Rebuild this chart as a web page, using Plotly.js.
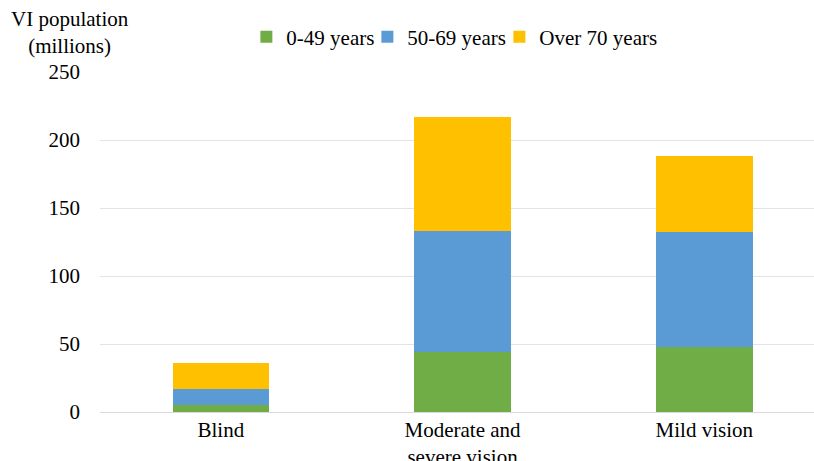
<!DOCTYPE html>
<html>
<head>
<meta charset="utf-8">
<script src="https://cdn.plot.ly/plotly-3.0.1.min.js"></script>
<style>html,body{margin:0;padding:0;background:#fff;}#chart{width:814px;height:461px;}</style>
</head>
<body>
<div id="chart"></div>
<script>
var categories = ["Blind", "Moderate and<br>severe vision", "Mild vision"];
var seriesNames = ["0-49 years", "50-69 years", "Over 70 years"];
var age0to49 = [5.0, 44.1, 47.8];
var age50to69 = [12.2, 89.1, 84.4];
var ageOver70 = [18.9, 83.5, 56.3];
var yTickVals = [0, 50, 100, 150, 200, 250];
var yTitle = "VI population<br>(millions)";

var colors = ["#70AD47", "#5B9BD5", "#FFC000"];
var legendWidths = [76, 87, 0];
var values = [age0to49, age50to69, ageOver70];
var FONT = "Liberation Serif";

var traces = values.map(function (v, i) {
  var t = {
    type: "bar",
    name: seriesNames[i],
    x: categories,
    y: v,
    marker: {color: colors[i], line: {width: 0}},
    hoverinfo: "name+y"
  };
  if (legendWidths[i]) t.legendwidth = legendWidths[i];
  return t;
});

var layout = {
  width: 814,
  height: 461,
  barmode: "stack",
  bargap: 0.6,
  paper_bgcolor: "#ffffff",
  plot_bgcolor: "#ffffff",
  font: {family: FONT, size: 21, color: "#000000"},
  margin: {l: 100, r: 0, t: 72, b: 49},
  showlegend: true,
  legend: {
    orientation: "h",
    x: 0.205,
    xanchor: "left",
    y: 1.103,
    yanchor: "middle",
    font: {family: FONT, size: 21, color: "#000000"},
    bgcolor: "rgba(0,0,0,0)",
    traceorder: "normal",
    itemwidth: 30
  },
  xaxis: {
    type: "category",
    range: [-0.5, 2.454],
    showgrid: false,
    showline: false,
    zeroline: false,
    ticks: "",
    tickfont: {family: FONT, size: 21, color: "#000000"},
    ticklabelstandoff: 3
  },
  yaxis: {
    range: [0, 250],
    tickvals: yTickVals,
    ticktext: yTickVals.map(String),
    showgrid: true,
    gridcolor: "#e3e3e3",
    gridwidth: 1,
    zeroline: true,
    zerolinecolor: "#d9d9d9",
    zerolinewidth: 1,
    showline: false,
    ticks: "",
    tickfont: {family: FONT, size: 21, color: "#000000"},
    ticklabelstandoff: 19
  },
  annotations: [{
    text: yTitle,
    xref: "paper",
    yref: "paper",
    x: -0.042,
    y: 1.198,
    xanchor: "center",
    yanchor: "top",
    showarrow: false,
    align: "center",
    font: {family: FONT, size: 21, color: "#000000"}
  }]
};

Plotly.newPlot("chart", traces, layout, {displayModeBar: false, staticPlot: true});
</script>
</body>
</html>
